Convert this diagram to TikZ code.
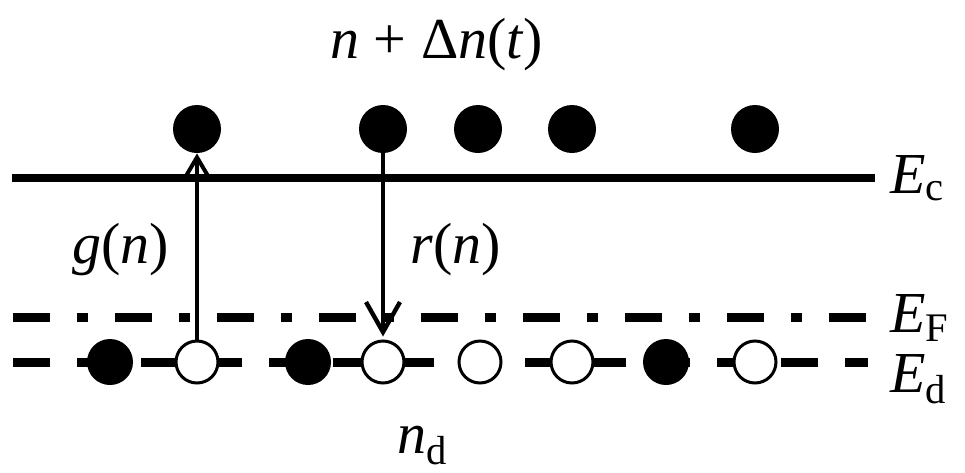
\documentclass[tikz,border=0pt]{standalone}
\usepackage{fontspec}
\setmainfont{Liberation Serif}
\usetikzlibrary{arrows.meta}
\begin{document}
\begin{tikzpicture}[x=0.5pt,y=-0.5pt,
  fdot/.style={circle,fill=black,inner sep=0pt,minimum size=23pt},
  odot/.style={circle,draw=black,fill=white,line width=1.5pt,inner sep=0pt,minimum size=21pt},
  lbl/.style={anchor=base west,inner sep=0pt,font=\fontsize{29}{34}\selectfont},
  level/.style={line width=4pt},
  dlevel/.style={line width=4.5pt,dash pattern=on 18.5pt off 13.5pt},
  dflevel/.style={line width=4.5pt,dash pattern=on 18.5pt off 13.5pt on 5.5pt off 13.5pt},
  arr/.style={line width=2pt}
]
\useasboundingbox (0,0) rectangle (965,472);
% levels
\coordinate (ecl) at (12,178);
\coordinate (ecr) at (875,178);
\coordinate (efl) at (13,317);
\coordinate (efr) at (866,317);
\coordinate (edl) at (13,362);
\coordinate (edr) at (868,362);
\draw[level] (ecl) -- (ecr);
\draw[dflevel] (efl) -- (efr);
\draw[dlevel] (edl) -- (edr);
% top electrons
\node[fdot,minimum size=24pt] (t1) at (197,129) {};
\node[fdot,minimum size=24pt] (t2) at (383,129) {};
\node[fdot,minimum size=24pt] (t3) at (478,129) {};
\node[fdot,minimum size=24pt] (t4) at (572,129) {};
\node[fdot,minimum size=24pt] (t5) at (755,129) {};
% donor level
\node[fdot] (b1) at (110,362) {};
\node[odot] (b2) at (197,362) {};
\node[fdot] (b3) at (308,362) {};
\node[odot] (b4) at (383,362) {};
\node[odot] (b5) at (480,362) {};
\node[odot] (b6) at (572,362) {};
\node[fdot] (b7) at (666,362) {};
\node[odot] (b8) at (755,362) {};
% transitions
\draw[arr,-{Straight Barb[length=11pt,width=13pt,line width=2pt]}] (b2.north) -- (t1.south);
\draw[arr,-{Straight Barb[length=15pt,width=17pt,line width=2.2pt]},shorten >=1.5pt] (t2.south) -- (b4.north);
% labels
\node[lbl] (ntop) at (330,58) {\textit{n} + Δ\textit{n}(\textit{t})};
\node[lbl] (gn) at (72,263) {\textit{g}(\textit{n})};
\node[lbl] (rn) at (410,263) {\textit{r}(\textit{n})};
\node[lbl] (ec) at (890,193) {\textit{E}\textsubscript{c}};
\node[lbl] (ef) at (890,332) {\textit{E}\textsubscript{F}};
\node[lbl] (ed) at (890,392) {\textit{E}\textsubscript{d}};
\node[lbl] (nd) at (397,453) {\textit{n}\textsubscript{d}};
\end{tikzpicture}
\end{document}
